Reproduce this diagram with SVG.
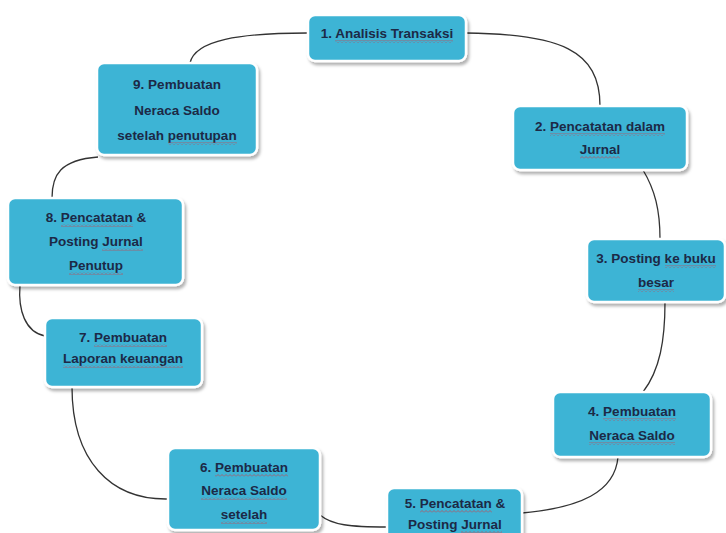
<svg xmlns="http://www.w3.org/2000/svg" width="726" height="533" viewBox="0 0 726 533">
<defs>
<filter id="sh" x="-10%" y="-10%" width="125%" height="130%">
<feDropShadow dx="2" dy="3" stdDeviation="1.5" flood-color="#000" flood-opacity="0.3"/>
</filter>
<pattern id="wave" patternUnits="userSpaceOnUse" width="4" height="3">
<path d="M0,2.5 L2,0.5 L4,2.5" fill="none" stroke="#c8404a" stroke-width="0.8"/>
</pattern>
</defs>
<style>
.box{fill:#3db4d5;stroke:#ffffff;stroke-width:2.5;filter:url(#sh)}
.t{font-family:"Liberation Sans",Arial,sans-serif;font-size:13.5px;font-weight:bold;fill:#1c2946;text-anchor:middle}
.c{fill:none;stroke:#333;stroke-width:1.3}
.sq{fill:url(#wave);opacity:0.85}
</style>
<rect width="726" height="533" fill="#ffffff"/>
<g id="connectors">
<path class="c" d="M466,33 C560,34 600,50 600,106"/>
<path class="c" d="M643,170 C655,190 660,210 660,239"/>
<path class="c" d="M665,302 C665,340 660,370 643,392"/>
<path class="c" d="M618,457 C615,492 580,508 522,513"/>
<path class="c" d="M320,515 C332,525 350,527 387,527"/>
<path class="c" d="M168,499 C110,500 72,460 72,387"/>
<path class="c" d="M20,285 C18,310 25,332 45,336"/>
<path class="c" d="M52,198 C52,175 60,160 98,157"/>
<path class="c" d="M190,63 C195,40 240,33 307,33"/>
</g>
<g id="n1">
<rect class="box" x="308" y="15" width="158" height="46" rx="7"/>
<text class="t" x="387" y="38">1. Analisis Transaksi</text>
<rect class="sq" x="335" y="40" width="118" height="3"/>
</g>
<g id="n2">
<rect class="box" x="513" y="106" width="174" height="64" rx="7"/>
<text class="t" x="600" y="131">2. Pencatatan dalam</text>
<text class="t" x="600" y="154">Jurnal</text>
<rect class="sq" x="550" y="133" width="115" height="3"/>
<rect class="sq" x="580" y="156" width="40" height="3"/>
</g>
<g id="n3">
<rect class="box" x="587" y="239" width="138" height="63" rx="7"/>
<text class="t" x="656" y="263">3. Posting ke buku</text>
<text class="t" x="656" y="287">besar</text>
<rect class="sq" x="665" y="265" width="51" height="3"/>
<rect class="sq" x="638" y="289" width="36" height="3"/>
</g>
<g id="n4">
<rect class="box" x="553" y="392" width="158" height="65" rx="7"/>
<text class="t" x="632" y="416">4. Pembuatan</text>
<text class="t" x="632" y="440">Neraca Saldo</text>
<rect class="sq" x="603" y="418" width="73" height="3"/>
<rect class="sq" x="589" y="442" width="86" height="3"/>
</g>
<g id="n5">
<rect class="box" x="387" y="488" width="135" height="60" rx="7"/>
<text class="t" x="455" y="508">5. Pencatatan &amp;</text>
<text class="t" x="455" y="529">Posting Jurnal</text>
<rect class="sq" x="420" y="510" width="72" height="3"/>
<rect class="sq" x="461" y="531" width="41" height="2"/>
</g>
<g id="n6">
<rect class="box" x="168" y="448" width="152" height="82" rx="7"/>
<text class="t" x="244" y="472">6. Pembuatan</text>
<text class="t" x="244" y="495">Neraca Saldo</text>
<text class="t" x="244" y="519">setelah</text>
<rect class="sq" x="215" y="474" width="73" height="3"/>
<rect class="sq" x="201" y="497" width="86" height="3"/>
<rect class="sq" x="221" y="521" width="46" height="3"/>
</g>
<g id="n7">
<rect class="box" x="45" y="318" width="157" height="69" rx="7"/>
<text class="t" x="123" y="342">7. Pembuatan</text>
<text class="t" x="123" y="363">Laporan keuangan</text>
<rect class="sq" x="94" y="344" width="73" height="3"/>
<rect class="sq" x="63" y="365" width="120" height="3"/>
</g>
<g id="n8">
<rect class="box" x="8" y="198" width="175" height="87" rx="7"/>
<text class="t" x="96" y="222">8. Pencatatan &amp;</text>
<text class="t" x="96" y="246">Posting Jurnal</text>
<text class="t" x="96" y="270">Penutup</text>
<rect class="sq" x="61" y="224" width="72" height="3"/>
<rect class="sq" x="102" y="248" width="41" height="3"/>
<rect class="sq" x="69" y="272" width="54" height="3"/>
</g>
<g id="n9">
<rect class="box" x="97" y="63" width="160" height="92" rx="7"/>
<text class="t" x="177" y="89">9. Pembuatan</text>
<text class="t" x="177" y="115">Neraca Saldo</text>
<text class="t" x="177" y="140">setelah penutupan</text>
<rect class="sq" x="168" y="142" width="69" height="3"/>
</g>
</svg>
